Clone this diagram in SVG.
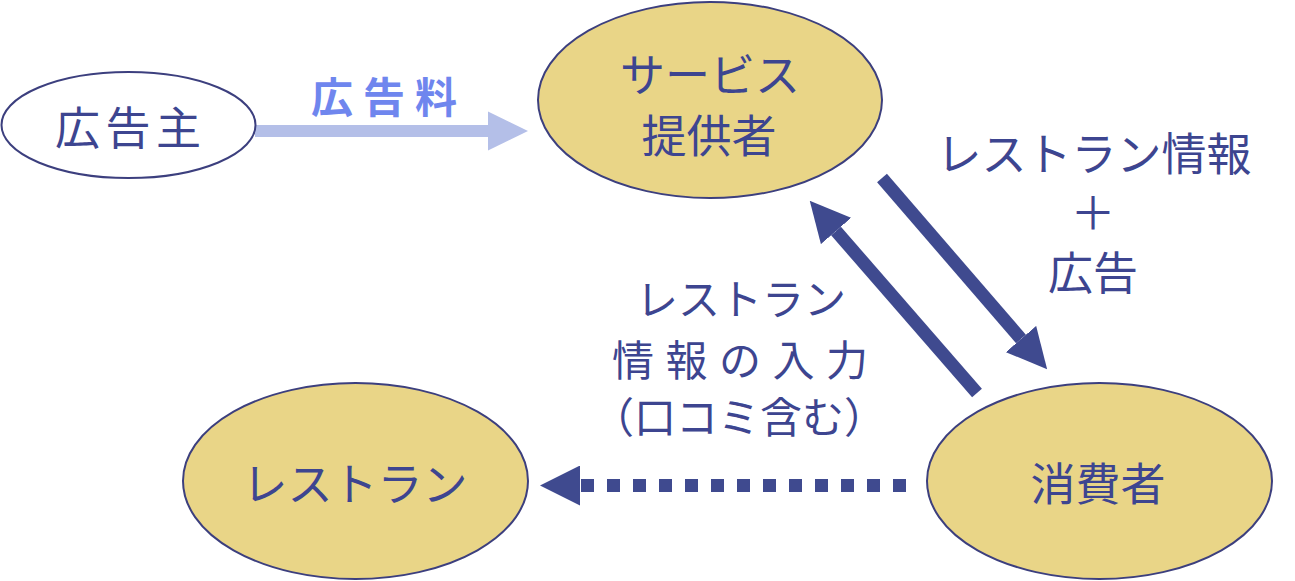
<svg xmlns="http://www.w3.org/2000/svg" width="1295" height="581" viewBox="0 0 1295 581">
<style>
.node{fill:#e9d587;stroke:#3c3f7e;stroke-width:2}
.plain{fill:#ffffff;stroke:#3c3f7e;stroke-width:2}
text{font-family:"Noto Sans CJK JP","Noto Sans CJK SC",sans-serif;font-size:45px;fill:#3d4590;text-anchor:middle;dominant-baseline:central}
.fee{fill:#6f86ee;font-weight:bold;font-size:42px}
.small{font-size:42px}
.dark{stroke:#3f4a8f;stroke-width:13;fill:none}
.light{stroke:#b4bfe8;stroke-width:12;fill:none}
.dash{stroke-dasharray:13 13}
</style>
<defs>
<marker id="headDark" markerUnits="userSpaceOnUse" markerWidth="40" markerHeight="40" viewBox="0 0 38 38" refX="0" refY="19" orient="auto">
<path d="M0,0 L38,19 L0,38 Z" fill="#3f4a8f" stroke="none"/>
</marker>
<marker id="headLight" markerUnits="userSpaceOnUse" markerWidth="40" markerHeight="40" viewBox="0 0 39 38" refX="0" refY="19" orient="auto">
<path d="M0,0 L39,19 L0,38 Z" fill="#b4bfe8" stroke="none"/>
</marker>
</defs>
<g id="connectors">
<line class="light" x1="255" y1="131" x2="488" y2="131" marker-end="url(#headLight)"/>
<line class="dark" x1="882" y1="178" x2="1021" y2="339" marker-end="url(#headDark)"/>
<line class="dark" x1="977" y1="393" x2="836" y2="231" marker-end="url(#headDark)"/>
<line class="dark dash" x1="906" y1="485.5" x2="580" y2="485.5" marker-end="url(#headDark)"/>
<text class="fee" x="384" y="94" textLength="146" lengthAdjust="spacing">広告料</text>
<text x="1094" y="151">レストラン情報</text>
<text x="1093" y="210">＋</text>
<text x="1093" y="270">広告</text>
<text class="small" x="741" y="296">レストラン</text>
<text class="small" x="740" y="357" textLength="256" lengthAdjust="spacing">情報の入力</text>
<text class="small" x="739" y="414">（口コミ含む）</text>
</g>
<g id="advertiser">
<ellipse class="plain" cx="128.5" cy="125" rx="127" ry="53"/>
<text x="128" y="125" textLength="146" lengthAdjust="spacing">広告主</text>
</g>
<g id="service">
<ellipse class="node" cx="710" cy="100" rx="172" ry="98"/>
<text x="710" y="72">サービス</text>
<text x="709" y="133">提供者</text>
</g>
<g id="restaurant">
<ellipse class="node" cx="355.5" cy="481" rx="172.5" ry="98"/>
<text x="355" y="481">レストラン</text>
</g>
<g id="consumer">
<ellipse class="node" cx="1099.5" cy="481" rx="172.5" ry="98"/>
<text x="1098" y="481">消費者</text>
</g>
</svg>
